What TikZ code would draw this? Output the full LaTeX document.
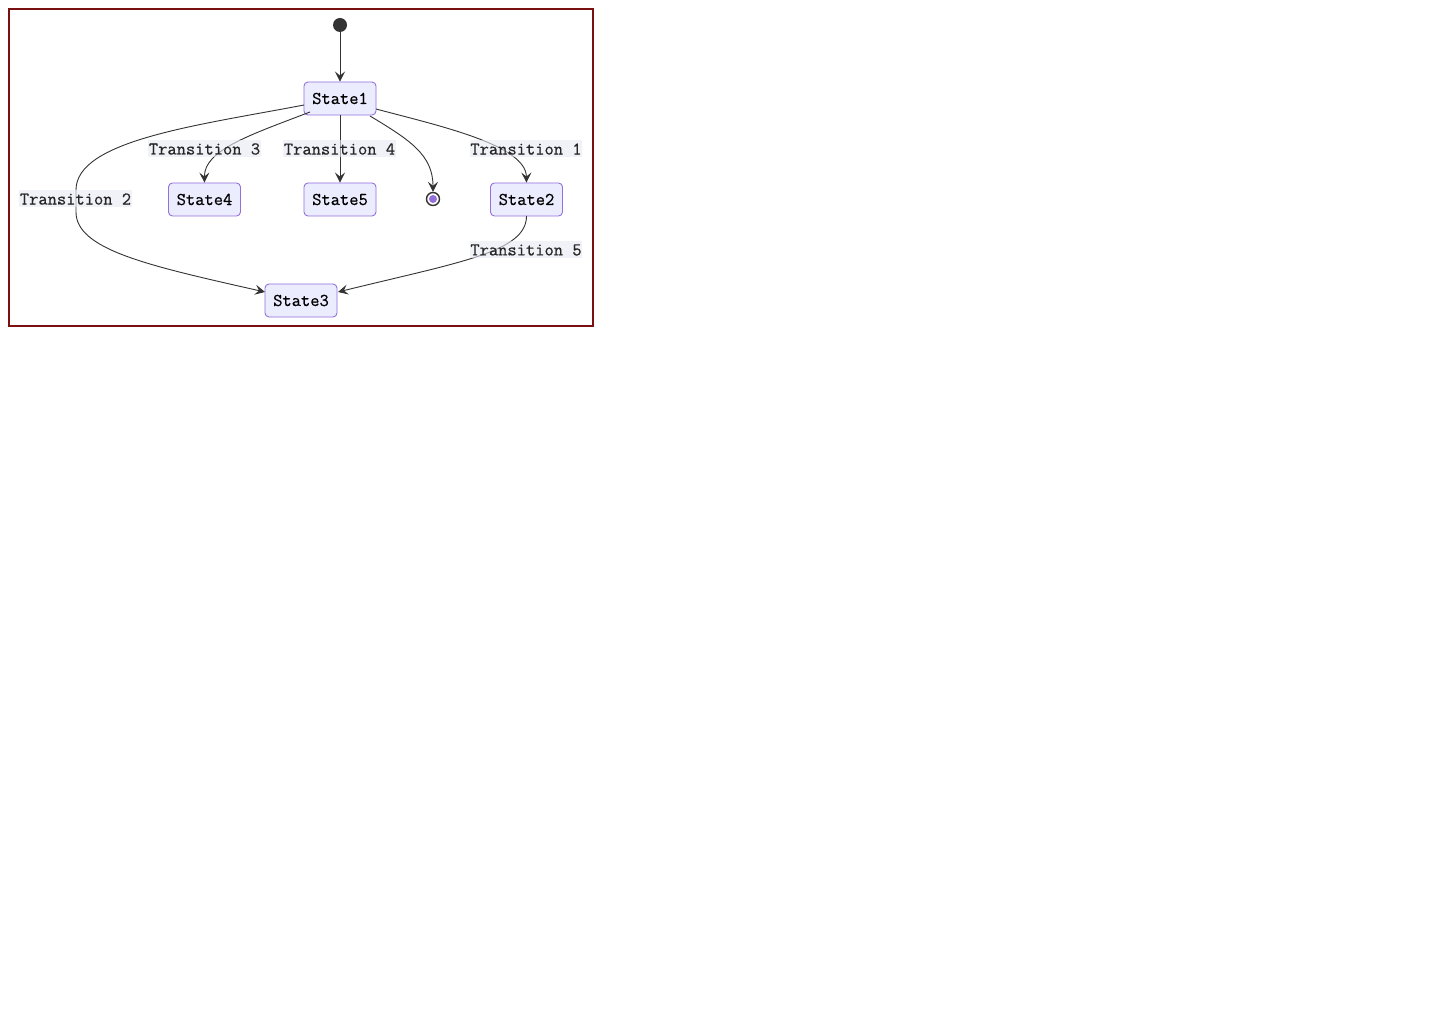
\documentclass[tikz,border=0pt]{standalone}
\usepackage{fontspec}
\newfontfamily\diagfont{Latin Modern Mono}[FakeBold=0.6]
\usetikzlibrary{arrows.meta}
\definecolor{nodefill}{HTML}{ECECFF}
\definecolor{nodeline}{HTML}{9370DB}
\definecolor{edgecol}{HTML}{333333}
\definecolor{framecol}{HTML}{7A1010}
\definecolor{lblbg}{HTML}{E8E8F4}
\begin{document}
\begin{tikzpicture}[x=1pt,y=-1pt,
  statebox/.style={draw=nodeline,fill=nodefill,line width=0.9pt,rounded corners=4pt,
    minimum width=72pt,minimum height=33pt,inner sep=0pt,font=\diagfont\fontsize{18}{20}\selectfont,text=black},
  lbl/.style={fill=lblbg,fill opacity=0.6,text opacity=1,inner sep=0.5pt,minimum height=17pt,
    font=\diagfont\fontsize{18}{20}\selectfont,text=black!85},
  edge/.style={draw=edgecol,line width=0.9pt,-{Stealth[length=10pt,width=10pt,inset=4pt]}}]
\useasboundingbox (0,0) rectangle (1440,1024);
\fill[white] (0,0) rectangle (1440,1024);
\draw[framecol,line width=2pt] (9,9) rectangle (593,326);
% nodes
\node[circle,fill=edgecol,minimum size=14pt,inner sep=0pt] (start) at (340,25) {};
\node[statebox] (s1) at (340,98.5) {State1};
\node[statebox] (s4) at (204.5,199.5) {State4};
\node[statebox] (s5) at (340,199.5) {State5};
\node[statebox] (s2) at (526.5,199.5) {State2};
\node[statebox] (s3) at (301,300.5) {State3};
\node[circle,draw=edgecol,line width=1.4pt,fill=white,minimum size=13pt,inner sep=0pt] (end) at (433,199) {};
\node[circle,fill=nodeline,minimum size=8pt,inner sep=0pt] at (end) {};
% edges
\draw[edge] (start) -- (s1);
\draw[edge] (s1.south) -- (s5.north);
\coordinate (a1) at (376,109);
\draw[edge] (a1) .. controls (440,126) and (526,145) .. (s2.north);
\coordinate (a2) at (304,105);
\coordinate (t3l) at (265,292);
\draw[edge] (a2) .. controls (200,125) and (76,140) .. (76,190) -- (76,212)
  .. controls (76,250) and (150,266) .. (t3l);
\coordinate (a3) at (310,112);
\draw[edge] (a3) .. controls (250,135) and (204,150) .. (s4.north);
\coordinate (a4) at (370,116);
\draw[edge] (a4) .. controls (410,140) and (433,155) .. (end.north);
\coordinate (a5) at (526.5,216);
\coordinate (t3r) at (338,292);
\draw[edge] (a5) .. controls (526.5,252) and (460,262) .. (t3r);
% labels
\node[lbl] (l3) at (204.5,149) {Transition 3};
\node[lbl] (l4) at (339.5,149) {Transition 4};
\node[lbl] (l1) at (526,149) {Transition 1};
\node[lbl] (l2) at (75.5,199) {Transition 2};
\node[lbl] (l5) at (526,250) {Transition 5};
\end{tikzpicture}
\end{document}
